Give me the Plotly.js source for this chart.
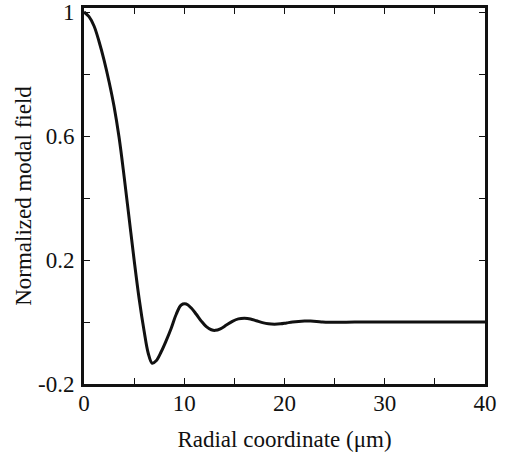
<!DOCTYPE html>
<html>
<head>
<meta charset="utf-8">
<script src="https://cdn.plot.ly/plotly-3.0.1.min.js"></script>
<style>html,body{margin:0;padding:0;background:#fff;}#chart{width:505px;height:456px;}</style>
</head>
<body>
<div id="chart"></div>
<script>
const radius = [0, 0.5, 1, 1.5, 2, 2.5, 3, 3.5, 4, 4.5, 5, 5.5, 6, 6.4, 6.8, 7.2, 7.7, 8.2, 8.7, 9.2, 9.7, 10.2, 10.7, 11.2, 11.7, 12.2, 12.7, 13.1, 13.6, 14.2, 14.8, 15.4, 16, 16.6, 17.2, 17.8, 18.4, 19, 19.6, 20.2, 20.8, 21.4, 22, 22.6, 23.2, 23.8, 24.5, 25.5, 27, 30, 35, 40];
const field = [1.0, 0.985, 0.955, 0.905, 0.845, 0.775, 0.695, 0.595, 0.47, 0.335, 0.2, 0.075, -0.03, -0.10, -0.133, -0.125, -0.096, -0.06, -0.02, 0.025, 0.055, 0.058, 0.045, 0.025, 0.003, -0.015, -0.025, -0.027, -0.022, -0.01, 0.002, 0.01, 0.012, 0.01, 0.004, -0.002, -0.006, -0.007, -0.006, -0.003, 0.0, 0.002, 0.003, 0.003, 0.002, 0.0, -0.001, -0.001, 0, 0, 0, 0];
const xTickVals = [0, 5, 10, 15, 20, 25, 30, 35, 40];
const xTickText = ['0', '', '10', '', '20', '', '30', '', '40'];
const yTickVals = [-0.2, 0, 0.2, 0.4, 0.6, 0.8, 1.0];
const yTickText = ['-0.2', '', '0.2', '', '0.6', '', '1'];

const fam = 'Liberation Serif, Times New Roman, serif';
const font = {family: fam, size: 23, color: '#111'};

Plotly.newPlot('chart', [{
  x: radius, y: field, type: 'scatter', mode: 'lines',
  line: {color: '#111', width: 3, shape: 'spline', smoothing: 1},
  hoverinfo: 'skip'
}], {
  width: 505, height: 456,
  margin: {l: 84, r: 20, t: 8, b: 72},
  paper_bgcolor: '#fff', plot_bgcolor: '#fff',
  showlegend: false,
  font: font,
  xaxis: {
    range: [0, 40], tickvals: xTickVals, ticktext: xTickText,
    ticks: 'inside', ticklen: 6, tickwidth: 1, tickcolor: '#111',
    showline: true, linecolor: '#111', linewidth: 3, mirror: 'ticks',
    showgrid: false, zeroline: false, tickfont: font,
    ticklabelstandoff: -4,
    title: {text: 'Radial coordinate (μm)', font: font, standoff: 17}
  },
  yaxis: {
    range: [-0.2, 1.013], tickvals: yTickVals, ticktext: yTickText,
    ticks: 'inside', ticklen: 6, tickwidth: 1, tickcolor: '#111',
    showline: true, linecolor: '#111', linewidth: 3, mirror: 'ticks',
    showgrid: false, zeroline: false, tickfont: font,
    ticklabelstandoff: 2,
    title: {text: 'Normalized modal field', font: font, standoff: 0}
  }
}, {displayModeBar: false, staticPlot: true});
</script>
</body>
</html>
